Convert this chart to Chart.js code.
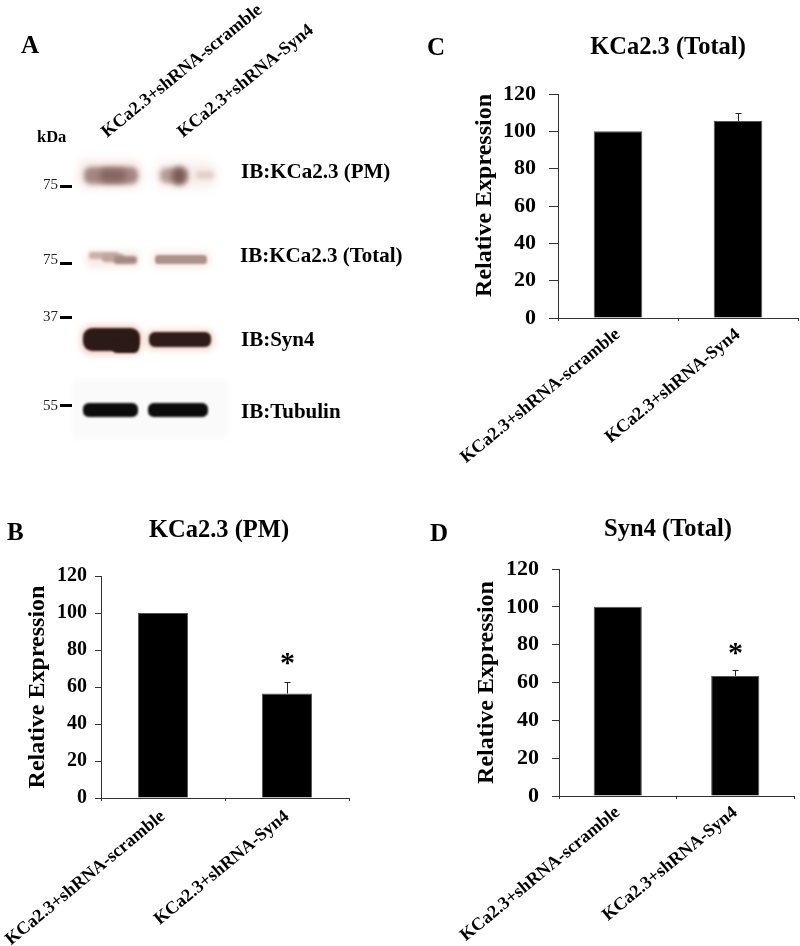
<!DOCTYPE html>
<html>
<head>
<meta charset="utf-8">
<style>
html, body { margin: 0; padding: 0; background: #fff; }
body { position: relative; width: 800px; height: 946px; overflow: hidden; }
canvas { position: absolute; }
</style>
</head>
<body>
<canvas id="panelA"></canvas>
<canvas id="panelB"></canvas>
<canvas id="panelC"></canvas>
<canvas id="panelD"></canvas>
<script src="https://cdn.jsdelivr.net/npm/chart.js@4"></script>
<script>
// data
const categories = ['KCa2.3+shRNA-scramble', 'KCa2.3+shRNA-Syn4'];
const yTicks = [0, 20, 40, 60, 80, 100, 120];
const pmValues = [100, 56.5];
const pmErrors = [0, 6];
const totalValues = [100, 105.5];
const totalErrors = [0, 4.5];
const syn4Values = [100, 63.5];
const syn4Errors = [0, 3];
const pmStars = ['', '*'];
const totalStars = ['', ''];
const syn4Stars = ['', '*'];

const SERIF = '"Liberation Serif", "Times New Roman", serif';

// error bars and significance stars sit on the bars, so use the library scales
const errorBarPlugin = {
  id: 'errorBars',
  afterDatasetsDraw(chart, args, opts) {
    const { ctx } = chart;
    const meta = chart.getDatasetMeta(0);
    const y = chart.scales.y;
    ctx.save();
    ctx.strokeStyle = '#222';
    ctx.lineWidth = 1;
    opts.errors.forEach((err, i) => {
      const top = chart.data.datasets[0].data[i] + err;
      const x = Math.round(meta.data[i].x) + 0.5;
      if (err > 0) {
        const py = Math.round(y.getPixelForValue(top)) + 0.5;
        ctx.beginPath();
        ctx.moveTo(x, y.getPixelForValue(top - err));
        ctx.lineTo(x, py);
        ctx.moveTo(x - 3, py);
        ctx.lineTo(x + 3, py);
        ctx.stroke();
      }
      if (opts.stars[i]) {
        ctx.fillStyle = '#000';
        ctx.font = 'bold 30px ' + SERIF;
        ctx.textAlign = 'center';
        ctx.textBaseline = 'alphabetic';
        ctx.fillText(opts.stars[i], x, y.getPixelForValue(top) - opts.starGap);
      }
    });
    ctx.restore();
  }
};

// panel letter, and the title block moved to its spot in the figure
const letterPlugin = {
  id: 'panelLetter',
  afterLayout(chart, args, opts) {
    chart.titleBlock.left = opts.titleCx - 100;
    chart.titleBlock.right = opts.titleCx + 100;
  },
  afterDraw(chart, args, opts) {
    const { ctx } = chart;
    ctx.save();
    ctx.fillStyle = '#000';
    ctx.font = 'bold 25px ' + SERIF;
    ctx.textAlign = 'left';
    ctx.textBaseline = 'alphabetic';
    ctx.fillText(opts.text, opts.x, opts.y);
    ctx.restore();
  }
};

function drawBar(id, cfg) {
  const el = document.getElementById(id);
  const width = cfg.canvas.w;
  const height = cfg.canvas.h;
  el.style.left = cfg.canvas.x + 'px';
  el.style.top = cfg.canvas.y + 'px';
  el.width = width;
  el.height = height;
  return new Chart(el, {
    type: 'bar',
    data: {
      labels: categories,
      datasets: [{
        data: cfg.values,
        backgroundColor: '#000',
        borderColor: '#555',
        borderWidth: 1,
        categoryPercentage: 1,
        barPercentage: cfg.barPct
      }]
    },
    options: {
      responsive: false,
      animation: false,
      layout: { padding: { left: 0, top: 0, right: width - cfg.plot.right + cfg.canvas.x, bottom: 0 } },
      plugins: {
        legend: { display: false },
        tooltip: { enabled: false },
        title: {
          display: true,
          text: cfg.title,
          color: '#000',
          font: { family: SERIF, size: 24.5, weight: 'bold', lineHeight: 1 },
          padding: { top: cfg.titleTop, bottom: cfg.plot.top - cfg.canvas.y - cfg.titleTop - 24.5 }
        },
        errorBars: { errors: cfg.errors, stars: cfg.stars, starGap: cfg.starGap },
        panelLetter: cfg.letter
      },
      scales: {
        x: {
          type: 'category',
          border: { color: '#333', width: 1 },
          grid: { offset: true, drawOnChartArea: false, tickLength: 3, color: '#333' },
          ticks: {
            color: '#000',
            padding: cfg.catPad,
            minRotation: 39.5,
            maxRotation: 39.5,
            autoSkip: false,
            font: { family: SERIF, size: 18, weight: 'bold' }
          },
          afterFit(scale) {
            scale.height = cfg.canvas.y + height - cfg.plot.bottom;
            scale.paddingLeft = 0;
            scale.paddingRight = 0;
          }
        },
        y: {
          min: 0,
          max: 120,
          afterBuildTicks(scale) { scale.ticks = yTicks.map(v => ({ value: v })); },
          border: { color: '#333', width: 1 },
          grid: { drawOnChartArea: false, tickLength: cfg.tickLen, color: '#333' },
          ticks: {
            color: '#000',
            padding: cfg.tickPad,
            font: { family: SERIF, size: cfg.tickSize, weight: 'bold' }
          },
          title: {
            display: true,
            text: 'Relative Expression',
            color: '#000',
            align: cfg.yTitleAlign,
            font: { family: SERIF, size: 24, weight: 'bold', lineHeight: 1 },
            padding: { top: cfg.yTitleX - cfg.canvas.x - 12, bottom: 0 }
          },
          afterFit(scale) { scale.width = cfg.plot.left - cfg.canvas.x; }
        }
      }
    },
    plugins: [errorBarPlugin, letterPlugin]
  });
}

drawBar('panelB', {
  canvas: { x: 0, y: 512, w: 420, h: 434 },
  plot: { left: 101, right: 349, top: 576, bottom: 798 },
  title: 'KCa2.3 (PM)', titleTop: 6,
  values: pmValues, errors: pmErrors, stars: pmStars, starGap: 10,
  barPct: 0.405, tickLen: 6, tickPad: 8, tickSize: 20, catPad: 5, yTitleX: 38, yTitleAlign: 'center',
  letter: { text: 'B', x: 7, y: 540 - 512, titleCx: 219 }
});

drawBar('panelC', {
  canvas: { x: 420, y: 30, w: 380, h: 450 },
  plot: { left: 558, right: 798, top: 94, bottom: 318 },
  title: 'KCa2.3 (Total)', titleTop: 5,
  values: totalValues, errors: totalErrors, stars: totalStars, starGap: 10,
  barPct: 0.405, tickLen: 9, tickPad: 13, tickSize: 22, catPad: 3, yTitleX: 485, yTitleAlign: 'end',
  letter: { text: 'C', x: 427 - 420, y: 55 - 30, titleCx: 668 - 420 }
});

drawBar('panelD', {
  canvas: { x: 420, y: 512, w: 380, h: 434 },
  plot: { left: 559, right: 794, top: 569, bottom: 796 },
  title: 'Syn4 (Total)', titleTop: 5,
  values: syn4Values, errors: syn4Errors, stars: syn4Stars, starGap: 8,
  barPct: 0.41, tickLen: 7, tickPad: 13, tickSize: 22, catPad: 3, yTitleX: 487, yTitleAlign: 'center',
  letter: { text: 'D', x: 430 - 420, y: 541 - 512, titleCx: 668 - 420 }
});

// panel A is the western blot photo, painted as blurred bands
const bands = [
  // x, y, w, h, colour, blur
  [84, 167, 54, 17, '#a48682', 2.5], [100, 169, 26, 13, '#856662', 3],
  [160, 168, 28, 15, '#b89c98', 2.5], [172, 167, 14, 18, '#7a5854', 3], [196, 171, 18, 8, '#e0cfcb', 2],
  [89, 252, 30, 7, '#c9b0aa', 1.5], [102, 254, 22, 8, '#bfa59f', 1.5], [114, 256, 23, 8, '#a58a84', 1.5],
  [155, 255, 52, 9, '#ad928c', 1.2],
  [83, 328, 57, 23, '#2c1a16', 1], [112, 340, 27, 13, '#2c1a16', 1],
  [149, 332, 62, 15, '#2f1c18', 1],
  [83, 403, 55, 14, '#0c0c0c', 1.2], [148, 403, 60, 14, '#0c0c0c', 1.2]
];
const halos = [
  [80, 325, 63, 30, '#f5d3ca', 3], [146, 330, 68, 20, '#f5d3ca', 3],
  [78, 160, 64, 28, '#f6e8e4', 5], [155, 162, 62, 26, '#f8eeeb', 5],
  [85, 250, 55, 18, '#f9ece8', 3], [151, 251, 60, 17, '#f9ece8', 3]
];
const kdaMarks = [['75', 184, 186], ['75', 259, 263], ['37', 316, 317], ['55', 405, 405]];
const blotLabels = [
  ['IB:KCa2.3 (PM)', 241, 178], ['IB:KCa2.3 (Total)', 240, 262],
  ['IB:Syn4', 241, 346], ['IB:Tubulin', 241, 418]
];

const blotPlugin = {
  id: 'blot',
  beforeDraw(chart) {
    const { ctx } = chart;
    ctx.save();
    ctx.filter = 'blur(3px)';
    ctx.fillStyle = '#fafafa';
    ctx.fillRect(72, 380, 156, 58);
    [...halos, ...bands].forEach(([x, y, w, h, colour, blur]) => {
      ctx.filter = `blur(${blur}px)`;
      ctx.fillStyle = colour;
      ctx.beginPath();
      ctx.roundRect(x, y, w, h, h / 2.5);
      ctx.fill();
    });
    ctx.filter = 'none';

    ctx.fillStyle = '#000';
    ctx.textBaseline = 'alphabetic';
    kdaMarks.forEach(([txt, labelY, markY]) => {
      ctx.fillRect(60, markY - 1, 12, 3);
      ctx.font = '15px ' + SERIF;
      ctx.textAlign = 'right';
      ctx.fillStyle = '#222';
      ctx.fillText(txt, 58, labelY + 5);
      ctx.fillStyle = '#000';
    });
    ctx.textAlign = 'left';
    ctx.font = 'bold 16.5px ' + SERIF;
    ctx.fillText('kDa', 37, 142);
    ctx.font = 'bold 21px ' + SERIF;
    blotLabels.forEach(([txt, x, y]) => ctx.fillText(txt, x, y));
    ctx.font = 'bold 25px ' + SERIF;
    ctx.fillText('A', 21, 53);

    // lane headers
    ctx.font = 'bold 18px ' + SERIF;
    [[categories[0], 107, 138], [categories[1], 183, 138]].forEach(([txt, x, y]) => {
      ctx.save();
      ctx.translate(x, y);
      ctx.rotate(-39 * Math.PI / 180);
      ctx.fillText(txt, 0, 0);
      ctx.restore();
    });
    ctx.restore();
  }
};

const elA = document.getElementById('panelA');
elA.style.left = '0px';
elA.style.top = '0px';
elA.width = 420;
elA.height = 512;
new Chart(elA, {
  type: 'bar',
  data: { labels: [], datasets: [] },
  options: {
    responsive: false,
    animation: false,
    plugins: { legend: { display: false }, tooltip: { enabled: false } },
    scales: { x: { display: false }, y: { display: false } }
  },
  plugins: [blotPlugin]
});
</script>
</body>
</html>
